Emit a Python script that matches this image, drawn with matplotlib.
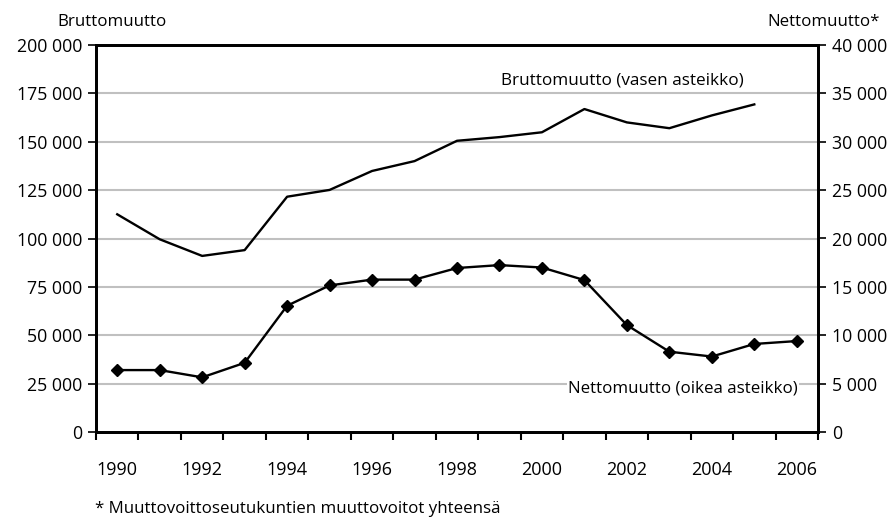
import matplotlib
matplotlib.use("Agg")
import matplotlib.pyplot as plt
import numpy as np

plt.rcParams['font.family'] = ['Open Sans', 'DejaVu Sans']

years = list(range(1990, 2007))
brutto_years = list(range(1990, 2006))
brutto = [112500, 99600, 91000, 94000, 121600, 125100, 134900, 140000, 150500,
          152400, 154900, 166900, 160000, 157000, 163600, 169300]
netto = [6400, 6400, 5650, 7150, 13050, 15150, 15750, 15750, 16950,
         17250, 17000, 15700, 11050, 8300, 7800, 9100, 9400]
left_ticks = [0, 25000, 50000, 75000, 100000, 125000, 150000, 175000, 200000]
right_ticks = [0, 5000, 10000, 15000, 20000, 25000, 30000, 35000, 40000]
xlabels = [str(y) for y in range(1990, 2007, 2)]

def fmt(v):
    return f"{v:,}".replace(",", " ")

fig = plt.figure(figsize=(8.94, 5.19), dpi=100)
ax = fig.add_axes([96/894, 1-432/519, (818-96)/894, (432-45)/519])
ax2 = ax.twinx()

xb = [years.index(y) for y in brutto_years]
xn = np.arange(len(years))

ax.set_ylim(0, 200000)
ax2.set_ylim(0, 40000)
ax.set_xlim(-0.5, len(years)-0.5)

ax.set_yticks(left_ticks)
ax.set_yticklabels([fmt(v) for v in left_ticks])
ax2.set_yticks(right_ticks)
ax2.set_yticklabels([fmt(v) for v in right_ticks])

for v in left_ticks[1:-1]:
    ax.axhline(v, color='#c0c0c0', lw=1.5, zorder=0)

ax.plot(xb, brutto, color='black', lw=1.7, zorder=3)
ax2.plot(xn, netto, color='black', lw=1.7, marker='D', markersize=6.5, zorder=3)

ax.set_xticks(np.arange(-0.5, len(years), 1.0))
ax.set_xticklabels([])
ax.set_xticks([years.index(int(l)) for l in xlabels], minor=True)
ax.set_xticklabels(xlabels, minor=True)
ax.tick_params(axis='x', which='major', direction='out', length=6, width=1.5, color='black')
ax.tick_params(axis='x', which='minor', length=0, pad=21, labelsize=13)
ax.tick_params(axis='y', direction='out', length=6, width=1.2, labelsize=12.8, pad=4)
ax2.tick_params(axis='y', direction='out', length=6, width=1.2, labelsize=12.8, pad=4)

for a in (ax, ax2):
    for s in a.spines.values():
        s.set_linewidth(2)
        s.set_color('black')

fig.text(57/894, 1-22/519, "Bruttomuutto", fontsize=12.2, va='center', ha='left')
fig.text(880/894, 1-22/519, "Nettomuutto*", fontsize=12.2, va='center', ha='right')
ax.text(0.729, 0.908, "Bruttomuutto (vasen asteikko)", transform=ax.transAxes,
        fontsize=12.3, ha='center', va='center')
ax.text(0.972, 0.113, "Nettomuutto (oikea asteikko)", transform=ax.transAxes,
        fontsize=12.2, ha='right', va='center',
        bbox=dict(facecolor='white', edgecolor='none', pad=1))
fig.text(95/894, 1-509/519, "* Muuttovoittoseutukuntien muuttovoitot yhteensä",
         fontsize=12.2, va='center', ha='left')

fig.savefig("out.png", dpi=100)
